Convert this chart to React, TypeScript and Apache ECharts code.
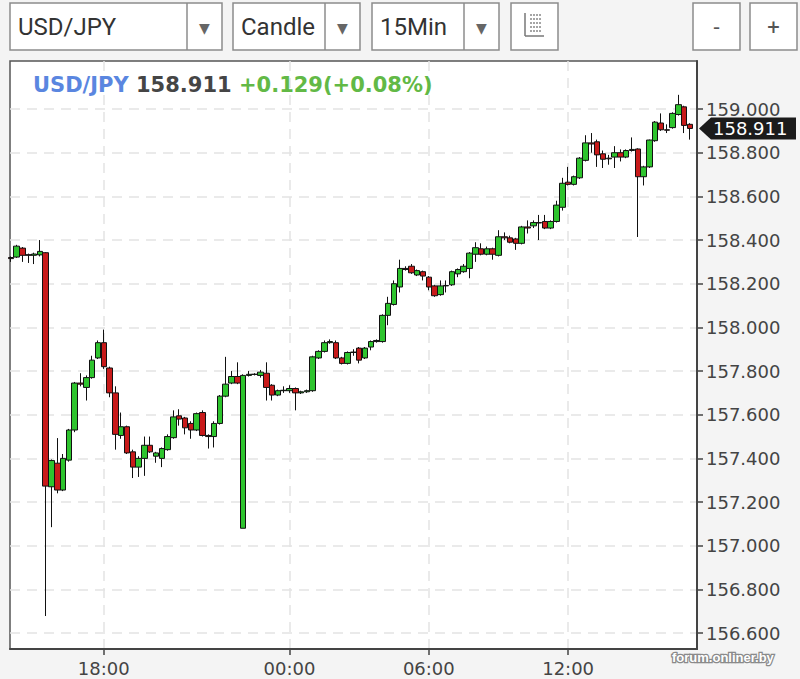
import React, { useEffect, useRef } from 'react';
import * as echarts from 'echarts';

// ---- data ----
const opens = [158.32, 158.322, 158.363, 158.333, 158.330, 158.332, 158.342, 157.27, 157.378, 157.255,
  157.392, 157.53, 157.745, 157.725, 157.77, 157.86, 157.93, 157.814, 157.70, 157.505,
  157.545, 157.43, 157.36, 157.40, 157.46, 157.41, 157.40, 157.44, 157.495, 157.595,
  157.585, 157.56, 157.53, 157.61, 157.505, 157.50, 157.56, 157.685, 157.745, 157.775,
  157.08, 157.78, 157.785, 157.78, 157.79, 157.735, 157.69, 157.71, 157.71, 157.72,
  157.70, 157.705, 157.71, 157.86, 157.89, 157.93, 157.93, 157.86, 157.835, 157.885,
  157.905, 157.86, 157.91, 157.935, 157.935, 158.055, 158.105, 158.185, 158.27, 158.28,
  158.24, 158.255, 158.23, 158.19, 158.15, 158.19, 158.195, 158.245, 158.255, 158.27,
  158.335, 158.36, 158.335, 158.36, 158.33, 158.415, 158.41, 158.405, 158.385, 158.46,
  158.465, 158.48, 158.485, 158.455, 158.485, 158.55, 158.665, 158.655, 158.685, 158.765,
  158.845, 158.85, 158.795, 158.775, 158.78, 158.80, 158.78, 158.81, 158.817, 158.69,
  158.735, 158.855, 158.936, 158.905, 158.915, 158.975, 159.01, 158.93];

const closes = [158.315, 158.372, 158.33, 158.330, 158.336, 158.348, 157.273, 157.39, 157.255, 157.40,
  157.53, 157.745, 157.74, 157.77, 157.85, 157.93, 157.82, 157.70, 157.51, 157.545,
  157.425, 157.36, 157.40, 157.46, 157.43, 157.425, 157.445, 157.50, 157.59, 157.58,
  157.54, 157.53, 157.605, 157.505, 157.50, 157.56, 157.685, 157.74, 157.775, 157.745,
  157.78, 157.785, 157.785, 157.795, 157.725, 157.69, 157.71, 157.712, 157.72, 157.70,
  157.705, 157.71, 157.865, 157.89, 157.93, 157.935, 157.86, 157.835, 157.885, 157.887,
  157.85, 157.905, 157.935, 157.94, 158.055, 158.11, 158.20, 158.27, 158.265, 158.25,
  158.26, 158.235, 158.185, 158.145, 158.19, 158.192, 158.255, 158.265, 158.28, 158.34,
  158.365, 158.335, 158.36, 158.335, 158.415, 158.41, 158.39, 158.385, 158.46, 158.455,
  158.48, 158.478, 158.455, 158.485, 158.56, 158.66, 158.655, 158.69, 158.775, 158.845,
  158.84, 158.79, 158.77, 158.772, 158.80, 158.78, 158.81, 158.815, 158.69, 158.735,
  158.858, 158.94, 158.905, 158.903, 158.98, 159.02, 158.925, 158.911];

const lows = [158.30, 158.318, 158.30, 158.295, 158.29, 158.325, 156.678, 157.085, 157.24, 157.25,
  157.385, 157.52, 157.73, 157.665, 157.765, 157.855, 157.81, 157.68, 157.44, 157.49,
  157.42, 157.31, 157.315, 157.32, 157.425, 157.38, 157.36, 157.435, 157.49, 157.55,
  157.51, 157.49, 157.525, 157.50, 157.445, 157.45, 157.555, 157.68, 157.74, 157.74,
  157.08, 157.775, 157.78, 157.77, 157.665, 157.665, 157.685, 157.70, 157.70, 157.62,
  157.695, 157.70, 157.705, 157.855, 157.885, 157.925, 157.855, 157.83, 157.83, 157.87,
  157.835, 157.855, 157.895, 157.93, 157.93, 158.01, 158.10, 158.16, 158.26, 158.245,
  158.235, 158.215, 158.17, 158.14, 158.145, 158.16, 158.19, 158.23, 158.25, 158.225,
  158.30, 158.33, 158.33, 158.31, 158.325, 158.40, 158.385, 158.355, 158.38, 158.43,
  158.455, 158.40, 158.45, 158.45, 158.48, 158.535, 158.65, 158.65, 158.68, 158.76,
  158.80, 158.735, 158.73, 158.745, 158.73, 158.76, 158.775, 158.805, 158.414, 158.65,
  158.73, 158.85, 158.90, 158.89, 158.91, 158.97, 158.89, 158.86];

const highs = [158.325, 158.378, 158.368, 158.338, 158.342, 158.40, 158.345, 157.395, 157.493, 157.42,
  157.535, 157.75, 157.79, 157.78, 157.87, 157.94, 157.99, 157.82, 157.73, 157.61,
  157.55, 157.44, 157.41, 157.50, 157.50, 157.43, 157.45, 157.51, 157.62, 157.625,
  157.59, 157.57, 157.61, 157.62, 157.51, 157.57, 157.69, 157.865, 157.80, 157.84,
  157.785, 157.80, 157.79, 157.805, 157.84, 157.74, 157.715, 157.73, 157.735, 157.725,
  157.71, 157.715, 157.87, 157.895, 157.94, 157.945, 157.94, 157.865, 157.89, 157.90,
  157.91, 157.91, 157.94, 157.945, 158.06, 158.14, 158.215, 158.31, 158.28, 158.29,
  158.265, 158.26, 158.235, 158.195, 158.215, 158.215, 158.26, 158.27, 158.29, 158.345,
  158.39, 158.385, 158.37, 158.365, 158.445, 158.435, 158.42, 158.41, 158.465, 158.49,
  158.49, 158.515, 158.515, 158.49, 158.58, 158.685, 158.735, 158.695, 158.78, 158.88,
  158.89, 158.86, 158.81, 158.79, 158.83, 158.815, 158.815, 158.87, 158.82, 158.74,
  158.86, 158.945, 158.98, 158.93, 158.985, 159.065, 159.015, 158.935];

const yTickValues = [156.6, 156.8, 157.0, 157.2, 157.4, 157.6, 157.8, 158.0, 158.2, 158.4, 158.6, 158.8, 159.0];
const xTickIndex = [16, 48, 72, 96];
const xTickLabels = ['18:00', '00:00', '06:00', '12:00'];

const pairName = 'USD/JPY';
const changeText = '+0.129(+0.08%)';
const chartTypeName = 'Candle';
const periodName = '15Min';
const watermark = 'forum.onliner.by';

const BOX_STROKE = '#8c8c8c';

function selectBox(x: number, w: number, div: number, label: string): any[] {
  return [
    { type: 'rect', shape: { x, y: 3, width: w, height: 47 }, style: { fill: '#fff', stroke: BOX_STROKE, lineWidth: 1.5 } },
    { type: 'line', shape: { x1: div, y1: 3, x2: div, y2: 50 }, style: { stroke: BOX_STROKE, lineWidth: 1.5 } },
    { type: 'text', x: x + 8, y: 27, style: { text: label, fontSize: 24, fontFamily: 'Roboto', fill: '#333', verticalAlign: 'middle' } },
    { type: 'text', x: (div + x + w) / 2, y: 28, style: { text: '▼', fontSize: 14, fontFamily: 'DejaVu Sans', fill: '#666', align: 'center', verticalAlign: 'middle' } },
  ];
}

function plainBox(x: number, w: number, label: string): any[] {
  return [
    { type: 'rect', shape: { x, y: 3, width: w, height: 47 }, style: { fill: '#fff', stroke: BOX_STROKE, lineWidth: 1.5 } },
    { type: 'text', x: x + w / 2, y: 27, style: { text: label, fontSize: 22, fontFamily: 'Roboto', fill: '#555', align: 'center', verticalAlign: 'middle' } },
  ];
}

function iconBox(x: number, w: number): any[] {
  const els: any[] = [
    { type: 'rect', shape: { x, y: 3, width: w, height: 47 }, style: { fill: '#fff', stroke: BOX_STROKE, lineWidth: 1.5 } },
    { type: 'line', shape: { x1: x + 14, y1: 13, x2: x + 14, y2: 36 }, style: { stroke: '#777', lineWidth: 1.5 } },
    { type: 'line', shape: { x1: x + 14, y1: 36, x2: x + 33, y2: 36 }, style: { stroke: '#777', lineWidth: 1.5 } },
  ];
  [15, 19, 23, 27, 31].forEach((yy) => {
    els.push({ type: 'line', shape: { x1: x + 19, y1: yy, x2: x + 31, y2: yy }, style: { stroke: '#888', lineWidth: 1.5, lineDash: [2, 1] } });
  });
  return els;
}

export default function App() {
  const ref = useRef<HTMLDivElement>(null);

  useEffect(() => {
    const el = ref.current;
    if (!el) return;
    const chart = echarts.init(el, null, { renderer: 'svg' });
    const candleData = opens.map((o, i) => [i, o, closes[i], lows[i], highs[i]]);
    const lastClose = closes[closes.length - 1];
    const lastText = lastClose.toFixed(3);

    const gridLine = { show: true, lineStyle: { color: '#e3e3e3', type: [10, 7], width: 1.5 } };

    const baseGraphic: any[] = [
      ...selectBox(10, 212, 187, pairName),
      ...selectBox(233, 127, 325, chartTypeName),
      ...selectBox(372, 127, 464, periodName),
      ...iconBox(511, 47),
      ...plainBox(693, 47, '-'),
      ...plainBox(750, 47, '+'),
      {
        type: 'text', x: 33, y: 85, z: 100,
        style: {
          text: '{a|' + pairName + '} {b|' + lastText + '} {c|' + changeText + '}',
          verticalAlign: 'middle',
          fontSize: 21, fontWeight: 'bold', fontFamily: 'DejaVu Sans', fill: '#454545',
          rich: {
            a: { fontSize: 21, fontWeight: 'bold', fontFamily: 'DejaVu Sans', fill: '#5a86e0' },
            b: { fontSize: 21, fontWeight: 'bold', fontFamily: 'DejaVu Sans', fill: '#454545' },
            c: { fontSize: 21, fontWeight: 'bold', fontFamily: 'DejaVu Sans', fill: '#62b946' },
          },
        },
      },
      {
        type: 'text', x: 672, y: 657, z: 100,
        style: {
          text: watermark, fontSize: 13, fontWeight: 'bold', fontFamily: 'Liberation Sans',
          fill: '#fff', stroke: '#8a8a8a', lineWidth: 2.5, verticalAlign: 'middle',
        },
      },
    ];

    const option: any = {
      animation: false,
      backgroundColor: '#f4f4f4',
      textStyle: { fontFamily: 'DejaVu Sans' },
      grid: {
        left: 10, top: 61, width: 687, height: 588,
        show: true, backgroundColor: '#fff', borderColor: '#555', borderWidth: 1.5,
        outerBoundsMode: 'none',
      },
      xAxis: {
        type: 'value', min: -0.155, max: 118.2,
        axisLine: { show: true, onZero: false, lineStyle: { color: '#444', width: 2 } },
        axisTick: { show: true, customValues: xTickIndex, length: 6, lineStyle: { color: '#444', width: 1.5 } },
        axisLabel: {
          customValues: xTickIndex,
          formatter: (v: number) => {
            const k = xTickIndex.indexOf(Math.round(v));
            return k >= 0 ? xTickLabels[k] : '';
          },
          fontSize: 18, color: '#444', margin: 10,
        },
        splitLine: gridLine,
      },
      yAxis: {
        type: 'value', position: 'right', min: 156.527, max: 159.22,
        axisLine: { show: true, onZero: false, lineStyle: { color: '#444', width: 2 } },
        axisTick: { show: true, customValues: yTickValues, length: 6, lineStyle: { color: '#444', width: 1.5 } },
        axisLabel: {
          customValues: yTickValues,
          formatter: (v: number) => v.toFixed(3),
          fontSize: 18, color: '#444', margin: 9,
        },
        splitLine: gridLine,
      },
      series: [{
        type: 'candlestick',
        data: candleData,
        barWidth: 6,
        clip: true,
        itemStyle: {
          color: '#2ec42e', color0: '#c81a1a',
          borderColor: '#111', borderColor0: '#111', borderWidth: 1,
        },
      }],
      graphic: baseGraphic,
    };
    chart.setOption(option);

    const py = chart.convertToPixel({ yAxisIndex: 0 }, lastClose) as number;
    chart.setOption({
      graphic: [
        ...baseGraphic,
        {
          type: 'polygon', z: 110,
          shape: { points: [[699, py], [711, py - 11], [796, py - 11], [796, py + 11], [711, py + 11]] },
          style: { fill: '#1b1b1b' },
        },
        {
          type: 'text', x: 713, y: py, z: 111,
          style: { text: lastText, fontSize: 18, fontFamily: 'DejaVu Sans', fill: '#fff', verticalAlign: 'middle' },
        },
      ],
    }, { replaceMerge: ['graphic'] });

    return () => chart.dispose();
  }, []);

  return <div ref={ref} style={{ position: 'fixed', left: 0, top: 0, width: 800, height: 679 }} />;
}
